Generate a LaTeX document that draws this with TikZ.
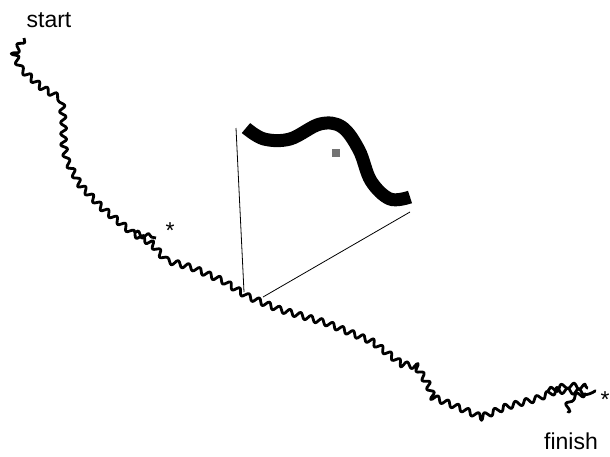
\documentclass[tikz,border=0pt]{standalone}
\usepackage{fontspec}
\setmainfont{Liberation Sans}
\usetikzlibrary{decorations.pathmorphing}
\tikzset{%
  chain/.style={line width=2.8pt, line join=round, decorate,
    decoration={snake, segment length=11pt, amplitude=3pt}},
  zoomline/.style={line width=0.8pt},
  endtag/.style={font=\fontsize{23}{26}\selectfont, inner sep=0pt}%
}

\begin{document}
\begin{tikzpicture}[
    x=1pt, y=-1pt,
    blowup/.style={line width=13pt, line join=round},
    marker/.style={fill=black!55, minimum size=8pt, inner sep=0pt}
]
\useasboundingbox (0,0) rectangle (610,456);

% Traced chain, start to finish
\draw[chain] (24,38) -- (14,55) -- (20,70) -- (38,86) -- (58,98)
  -- (60,118) -- (60,140) -- (64,160) -- (76,182) -- (100,207)
  -- (128,230) -- (150,242) -- (162,256) -- (190,264) -- (220,277)
  -- (245,293) -- (272,304) -- (320,318) -- (367,337) -- (396,359)
  -- (415,362) -- (427,380) -- (433,395) -- (460,406) -- (484,416)
  -- (510,405) -- (540,397) -- (560,389) -- (596,391);

% small loops on the chain
\draw[chain] (134,233) -- (146,236) -- (156,238);
\draw[chain] (548,391) -- (566,386) -- (588,388);
\draw[chain] (586,393) -- (574,397) -- (568,413);

% Ends and marks
\node[endtag] (start) at (49,20) {start};
\node[endtag] (finish) at (571,441) {finish};
\node[endtag, anchor=north] (star1) at (170,222) {*};
\node[endtag, anchor=north] (star2) at (605,391) {*};

% Magnified piece of the chain
\coordinate (cutA) at (244,292);
\coordinate (cutB) at (263,297);
\coordinate (boxA) at (236,128);
\coordinate (boxB) at (410,212);
\draw[zoomline] (cutA) -- (boxA);
\draw[zoomline] (cutB) -- (boxB);

\draw[blowup] plot[smooth, tension=0.6] coordinates {
  (246,128) (264,139) (290,139) (320,124) (342,127)
  (359,150) (371,181) (390,199) (410,197)};
\node[marker] (site) at (336,153) {};

\end{tikzpicture}
\end{document}
